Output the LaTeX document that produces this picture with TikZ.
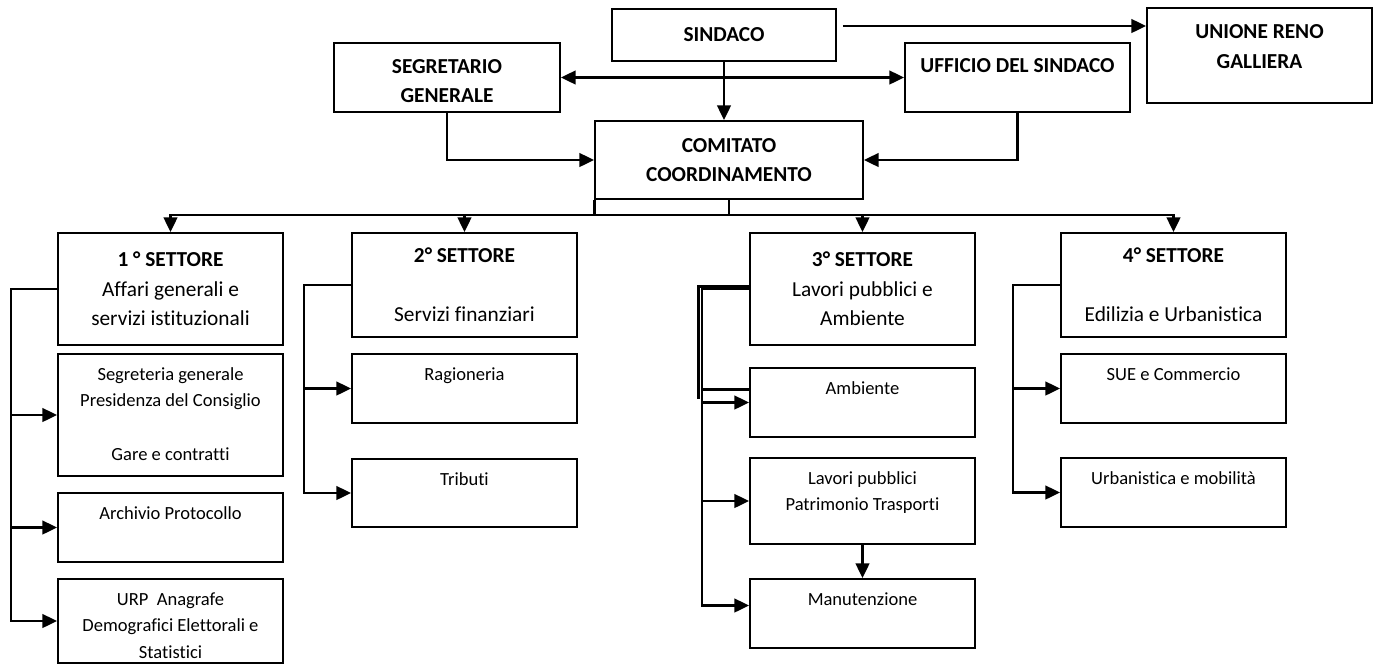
\documentclass[tikz,border=0pt]{standalone}
\usepackage{fontspec}
\setmainfont{Carlito}[Ligatures=NoCommon]
\usetikzlibrary{arrows.meta, positioning}

\begin{document}
\begin{tikzpicture}[x=0.75pt, y=-0.75pt,
  >={Triangle[length=11pt, width=10pt]},
  box/.style={draw, line width=1.3pt, inner sep=0pt, minimum width=168.75pt, align=center},
  topbox/.style={box, font=\fontsize{16}{22}\selectfont\bfseries},
  toptxt/.style={anchor=north, align=center, inner sep=0pt, font=\fontsize{16}{22}\selectfont\bfseries},
  setbox/.style={box, font=\fontsize{16}{22}\selectfont},
  subtxt/.style={anchor=north, align=center, inner sep=0pt, font=\fontsize{13.9}{20}\selectfont},
  conn/.style={line width=2.2pt}
]
  \useasboundingbox (0,0) rectangle (1379,665);

  % Top level
  \node[topbox, minimum width=168pt, minimum height=39pt] (sindaco) at (724,35) {SINDACO};
  \node[topbox, minimum height=71.25pt] (unione) at (1259.5,55.5) {};
  \node[toptxt] (unione-t) at ([yshift=-13pt]unione.north) {UNIONE RENO\\GALLIERA};
  \node[topbox, minimum width=169.5pt, minimum height=51.75pt] (segr) at (447,77.5) {};
  \node[toptxt] (segr-t) at ([yshift=-12.9pt]segr.north) {SEGRETARIO\\GENERALE};
  \node[topbox, minimum height=51.75pt] (uff) at (1017.5,77.5) {};
  \node[toptxt] (uff-t) at ([yshift=-12.2pt]uff.north) {UFFICIO DEL SINDACO};
  \node[topbox, minimum width=201pt, minimum height=58.5pt] (comitato) at (729,160) {COMITATO\\COORDINAMENTO};

  % Settori
  \node[setbox, minimum height=84pt] (s1) at (170.5,289) {\textbf{1 ° SETTORE}\\Affari generali e\\servizi istituzionali};
  \node[setbox, minimum height=78pt] (s2) at (464.5,285) {\textbf{2° SETTORE}\\[22pt]Servizi finanziari};
  \node[setbox, minimum height=84pt] (s3) at (862.5,289) {\textbf{3° SETTORE}\\Lavori pubblici e\\Ambiente};
  \node[setbox, minimum height=78pt] (s4) at (1173.5,285) {\textbf{4° SETTORE}\\[22pt]Edilizia e Urbanistica};

  % Uffici
  \node[box, minimum height=91.5pt] (seg) at (170.5,415) {};
  \node[subtxt] (seg-t) at ([yshift=-10.5pt]seg.north) {Segreteria generale\\Presidenza del Consiglio\\[20pt]Gare e contratti};
  \node[box, minimum height=51.75pt] (arch) at (170.5,527.5) {};
  \node[subtxt] (arch-t) at ([yshift=-10.5pt]arch.north) {Archivio Protocollo};
  \node[box, minimum height=63pt] (urp) at (170.5,621) {};
  \node[subtxt] (urp-t) at ([yshift=-10.5pt]urp.north) {URP~~Anagrafe\\Demografici Elettorali e\\Statistici};
  \node[box, minimum height=51.75pt] (rag) at (464.5,388.5) {};
  \node[subtxt] (rag-t) at ([yshift=-10.5pt]rag.north) {Ragioneria};
  \node[box, minimum height=51pt] (trib) at (464.5,493) {};
  \node[subtxt] (trib-t) at ([yshift=-10.5pt]trib.north) {Tributi};
  \node[box, minimum height=51.75pt] (amb) at (862.5,402.5) {};
  \node[subtxt] (amb-t) at ([yshift=-10.5pt]amb.north) {Ambiente};
  \node[box, minimum height=64.5pt] (lav) at (862.5,501) {};
  \node[subtxt] (lav-t) at ([yshift=-10.5pt]lav.north) {Lavori pubblici\\Patrimonio Trasporti};
  \node[box, minimum height=51.75pt] (man) at (862.5,613.5) {};
  \node[subtxt] (man-t) at ([yshift=-10.5pt]man.north) {Manutenzione};
  \node[box, minimum height=51.75pt] (sue) at (1173.5,388.5) {};
  \node[subtxt] (sue-t) at ([yshift=-10.5pt]sue.north) {SUE e Commercio};
  \node[box, minimum height=51.75pt] (urb) at (1173.5,492.5) {};
  \node[subtxt] (urb-t) at ([yshift=-10.5pt]urb.north) {Urbanistica e mobilità};

  % Helper points
  \coordinate (bus) at (0,215);
  \coordinate (b1) at (11,0);
  \coordinate (b2) at (304,0);
  \coordinate (b3) at (702,0);
  \coordinate (b4) at (1013,0);
  \coordinate (s-out) at ([shift={(6,-9)}]sindaco.east);
  \coordinate (man-in) at ([yshift=6pt]man.west);

  % Top connectors
  \draw[conn, ->] (sindaco.south) -- (sindaco.south |- comitato.north);
  \draw[conn, <->] (segr) -- (uff);
  \draw[conn, ->] (s-out) -- (s-out -| unione.west);
  \draw[conn, ->] (segr.south) |- (comitato.west);
  \draw[conn, ->] (uff.south) |- (comitato.east);
  \draw[conn] (comitato.south west) -- (comitato.south west |- bus);
  \draw[conn] (comitato.south) -- (comitato.south |- bus);
  \draw[conn, <->] (s1.north) -- (s1.north |- bus) -- (s4.north |- bus) -- (s4.north);
  \foreach \s in {s2,s3}
    \draw[conn, ->] (\s.north |- bus) -- (\s.north);

  % 1 settore
  \draw[conn, ->] (s1.west) -| (b1 |- urp.west) -- (urp.west);
  \draw[conn, ->] (b1 |- seg.west) -- (seg.west);
  \draw[conn, ->] (b1 |- arch.west) -- (arch.west);

  % 2 settore
  \draw[conn, ->] (s2.west) -| (b2 |- trib.west) -- (trib.west);
  \draw[conn, ->] (b2 |- rag.west) -- (rag.west);

  % 3 settore
  \draw[conn, ->] (s3.west) -| (b3 |- man-in) -- (man-in);
  \draw[conn] ([yshift=2pt]s3.west) -| ++(-51,113);
  \draw[conn] ([yshift=10pt]amb.west) -- ++(-48,0);
  \draw[conn, ->] (b3 |- amb.west) -- (amb.west);
  \draw[conn, ->] (b3 |- lav.west) -- (lav.west);
  \draw[conn, ->] (lav) -- (man);

  % 4 settore
  \draw[conn, ->] (s4.west) -| (b4 |- urb.west) -- (urb.west);
  \draw[conn, ->] (b4 |- sue.west) -- (sue.west);
\end{tikzpicture}
\end{document}
